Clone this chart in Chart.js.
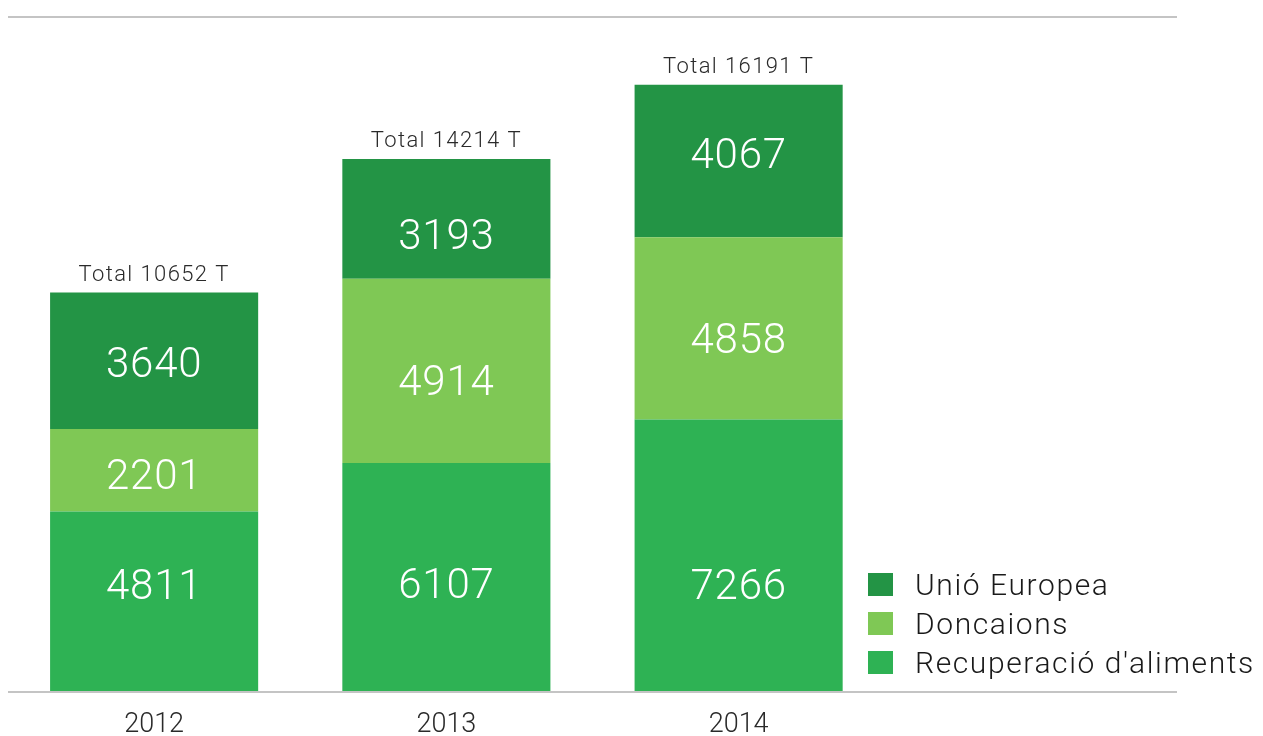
<!DOCTYPE html>
<html><head><meta charset="utf-8">
<script src="https://cdn.jsdelivr.net/npm/chart.js@4/dist/chart.umd.min.js"></script>
<style>
html,body{margin:0;padding:0;background:#fff;}
#wrap{position:relative;width:1263px;height:736px;}
#legend{position:absolute;left:868px;top:565px;font-family:"Roboto","Liberation Sans",sans-serif;font-weight:300;font-size:30px;letter-spacing:1.6px;color:#1a1a1a;}
#legend div{display:flex;align-items:center;height:39px;}
#legend span.sw{display:inline-block;width:25px;height:23px;margin-right:22px;}
</style></head>
<body><div id="wrap"><canvas id="c" width="1263" height="736"></canvas><div id="legend"></div></div>
<script>
const categories = ['2012', '2013', '2014'];
const recuperacio = [4811, 6107, 7266];
const doncaions = [2201, 4914, 4858];
const unioEuropea = [3640, 3193, 4067];
const totals = [10652, 14214, 16191];
const seriesNames = ['Recuperació d\'aliments', 'Doncaions', 'Unió Europea'];
const seriesColors = ['#2eb254', '#7fc855', '#239445'];

const FONT = '"Roboto","Liberation Sans",sans-serif';

const labelsPlugin = {
  id: 'segLabels',
  afterDatasetsDraw(chart, args, opts) {
    const ctx = chart.ctx;
    const nudge = opts.nudge || [];
    ctx.save();
    chart.data.datasets.forEach((ds, di) => {
      const meta = chart.getDatasetMeta(di);
      meta.data.forEach((bar, i) => {
        if (ds.data[i] == null) return;
        const top = Math.min(bar.y, bar.base), bot = Math.max(bar.y, bar.base);
        const dy = (nudge[di] && nudge[di][i]) || 0;
        ctx.fillStyle = '#ffffff';
        ctx.font = '300 42px ' + FONT;
        ctx.letterSpacing = '0.8px';
        ctx.textAlign = 'center';
        ctx.textBaseline = 'alphabetic';
        ctx.fillText(String(ds.data[i]), bar.x, (top + bot) / 2 + dy + 15);
      });
    });
    const lastMeta = chart.getDatasetMeta(chart.data.datasets.length - 1);
    lastMeta.data.forEach((bar, i) => {
      if (totals[i] == null) return;
      ctx.fillStyle = '#2a2a2a';
      ctx.font = '300 22px ' + FONT;
      ctx.letterSpacing = '1.4px';
      ctx.textAlign = 'center';
      ctx.textBaseline = 'alphabetic';
      ctx.fillText('Total ' + totals[i] + ' T', bar.x, bar.y - 12);
    });
    ctx.restore();
  }
};

const datasets = [recuperacio, doncaions, unioEuropea].map((d, k) => ({
  label: seriesNames[k],
  data: d,
  backgroundColor: seriesColors[k],
  borderWidth: 0,
  categoryPercentage: 1,
  barPercentage: 0.712
}));

new Chart(document.getElementById('c'), {
  type: 'bar',
  data: { labels: [...categories, ''], datasets },
  options: {
    responsive: false,
    animation: false,
    layout: { padding: { left: 8, right: 86, top: 17, bottom: 0 } },
    plugins: {
      legend: { display: false },
      tooltip: { enabled: false },
      segLabels: { nudge: [[-17, 6, 29], [4, 9, 10], [1, 15, -8]] }
    },
    scales: {
      x: {
        stacked: true,
        grid: { display: false, drawTicks: false },
        border: { display: false },
        ticks: { color: '#2a2a2a', font: { family: FONT, size: 27, weight: '300' }, padding: 17 },
        afterFit(s) { s.height = 44; }
      },
      y: {
        stacked: true,
        min: 0, max: 18000,
        ticks: { display: false, stepSize: 18000 },
        grid: { color: '#c4c4c4', lineWidth: 2, drawTicks: false },
        border: { display: false },
        afterFit(s) { s.width = 0; }
      }
    }
  },
  plugins: [labelsPlugin]
});

const leg = document.getElementById('legend');
[2, 1, 0].forEach(k => {
  const row = document.createElement('div');
  const sw = document.createElement('span');
  sw.className = 'sw';
  sw.style.background = seriesColors[k];
  row.appendChild(sw);
  row.appendChild(document.createTextNode(seriesNames[k]));
  leg.appendChild(row);
});
</script></body></html>
